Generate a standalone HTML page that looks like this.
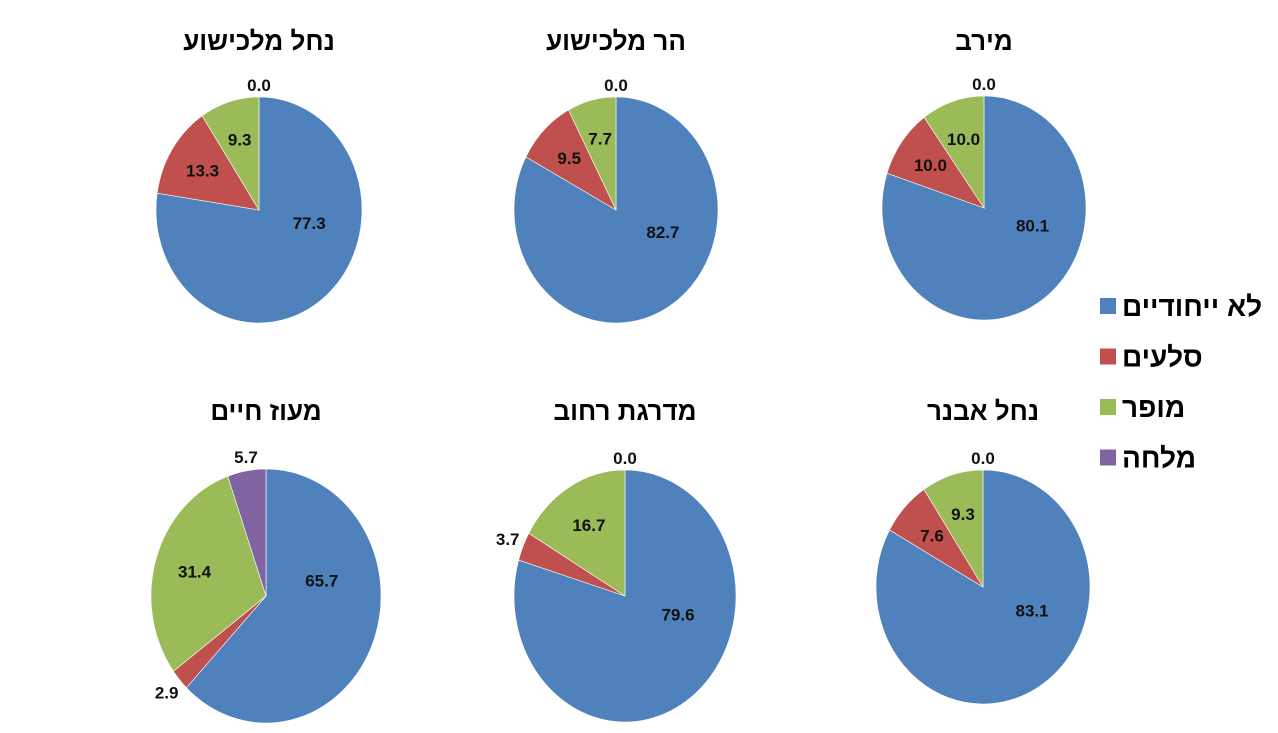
<!DOCTYPE html>
<html><head><meta charset="utf-8"><style>
body{margin:0;background:#fff;width:1278px;height:728px;overflow:hidden;font-family:"Liberation Sans","Noto Sans CJK SC",sans-serif}
svg text{font-family:"Liberation Sans","Noto Sans CJK SC",sans-serif}
</style></head><body>
<svg id="chart" width="1278" height="728"></svg>
<script>
const seriesNames=["לא ייחודיים","סלעים","מופר","מלחה"];
const colors=["#4f81bd","#c0504d","#9bbb59","#8064a2"];
const titles=["נחל מלכישוע","הר מלכישוע","מירב","מעוז חיים","מדרגת רחוב","נחל אבנר"];
const valsNahalMalkishua=[77.3,13.3,9.3,0.0];
const valsHarMalkishua=[82.7,9.5,7.7,0.0];
const valsMerav=[80.1,10.0,10.0,0.0];
const valsMaozHaim=[65.7,2.9,31.4,5.7];
const valsMadregat=[79.6,3.7,16.7,0.0];
const valsNahalAvner=[83.1,7.6,9.3,0.0];
const allVals=[valsNahalMalkishua,valsHarMalkishua,valsMerav,valsMaozHaim,valsMadregat,valsNahalAvner];
const geom=[[259,210,103,113],[616,210,102,113],[984,208,102,112],[266,596,115,127],[625,596,111,126],[983,587,107,117]];
const NS="http://www.w3.org/2000/svg";
const svg=document.getElementById('chart');
function mk(t,a){const e=document.createElementNS(NS,t);for(const k in a)e.setAttribute(k,a[k]);return e;}
function pt(cx,cy,rx,ry,f,s){const a=f*2*Math.PI;return [cx+s*rx*Math.sin(a),cy-s*ry*Math.cos(a)];}
allVals.forEach((vals,i)=>{
  const [cx,cy,rx,ry]=geom[i];
  const g=mk('g',{});
  
  
  svg.appendChild(g);
  const title=mk('text',{x:cx,y:(i<3?50:420),'text-anchor':'middle','font-size':26,'font-weight':'bold',direction:'rtl'});
  title.textContent=titles[i];
  
  
  g.appendChild(title);
  const total=vals.reduce((a,b)=>a+b,0);
  let acc=0;
  vals.forEach((v,j)=>{
    const f0=acc/total,f1=(acc+v)/total;acc+=v;
    if(v>0){
      const p0=pt(cx,cy,rx,ry,f0,1),p1=pt(cx,cy,rx,ry,f1,1);
      const large=(f1-f0)>0.5?1:0;
      const d=(f1-f0)>=0.9999?`M${cx},${cy-ry}A${rx},${ry} 0 1 1 ${cx-0.01},${cy-ry}Z`:
        `M${cx},${cy}L${p0[0]},${p0[1]}A${rx},${ry} 0 ${large} 1 ${p1[0]},${p1[1]}Z`;
      const p=mk('path',{d:d,fill:colors[j],stroke:'#fff','stroke-width':0.6});
      
      
      g.appendChild(p);
    }
    const fr=v/total, fm=(f0+f1)/2;
    let lp;
    if(fr>0.5){lp=pt(cx,cy,rx,ry,fm-0.1,0.5);}
    else if(fr>=0.06){lp=pt(cx,cy,rx,ry,fm,0.65);}
    else if(v===0){lp=[cx,cy-ry-12];}
    else if(fm>0.9){lp=[cx-20,cy-ry-12];}
    else{lp=pt(cx,cy,rx,ry,fm,1.15);}
    const t=mk('text',{x:lp[0],y:lp[1]+6,'text-anchor':'middle','font-size':17,'font-weight':'bold',fill:'#111'});
    t.textContent=v.toFixed(1);
    
    
    g.appendChild(t);
  });
});
const lg=mk('g',{});


svg.appendChild(lg);
seriesNames.forEach((n,j)=>{
  const y=306+j*50.5;
  const r=mk('rect',{x:1100,y:y-8,width:16,height:16,fill:colors[j]});
  
  
  lg.appendChild(r);
  const t=mk('text',{x:1122,y:y+10,'font-size':28,'font-weight':'bold','text-anchor':'start'});
  t.textContent=n;
  
  
  lg.appendChild(t);
});
</script>
</body></html>
